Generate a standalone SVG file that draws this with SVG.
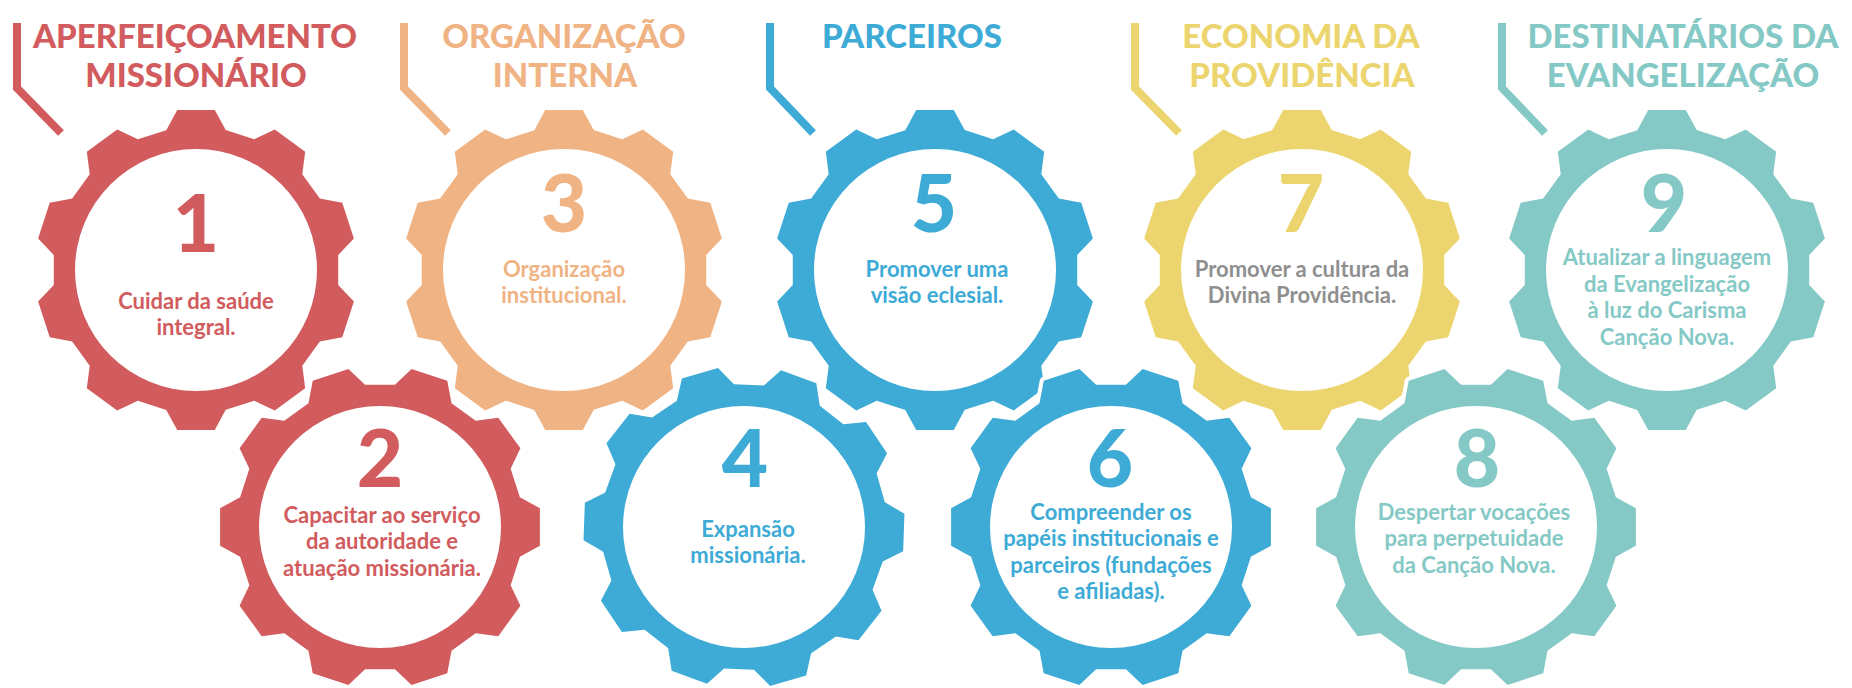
<svg xmlns="http://www.w3.org/2000/svg" xmlns:xlink="http://www.w3.org/1999/xlink" width="1852" height="688" viewBox="0 0 1852 688">
<style>
.title{font-family:Lato,"Liberation Sans",sans-serif;font-weight:900;font-size:33px;text-anchor:middle}
.num{font-family:Lato,"Liberation Sans",sans-serif;font-weight:900;font-size:80px;text-anchor:middle}
.body{font-family:Lato,"Liberation Sans",sans-serif;font-weight:700;font-size:22px;text-anchor:middle}
.red{fill:#D15B5D}.peach{fill:#F0B384}.blue{fill:#3DABD6}.yellow{fill:#ECD56F}.teal{fill:#85C9C6}.gray{fill:#8F8F8F}
.inner{fill:#FFFFFF}
.br{fill:none;stroke-width:8;stroke-linecap:butt;stroke-linejoin:miter}
</style>
<defs>
<path id="gear" stroke="#FFFFFF" stroke-width="8" stroke-linejoin="round" paint-order="stroke" d="M139.88,-29.73 L159.9,-18.78 L159.9,18.78 L139.88,29.73 L130.64,58.16 L140.4,78.79 L118.32,109.18 L95.69,106.27 L71.5,123.84 L67.28,146.27 L31.55,157.88 L14.95,142.22 L-14.95,142.22 L-31.55,157.88 L-67.28,146.27 L-71.5,123.84 L-95.69,106.27 L-118.32,109.18 L-140.4,78.79 L-130.64,58.16 L-139.88,29.73 L-159.9,18.78 L-159.9,-18.78 L-139.88,-29.73 L-130.64,-58.16 L-140.4,-78.79 L-118.32,-109.18 L-95.69,-106.27 L-71.5,-123.84 L-67.28,-146.27 L-31.55,-157.88 L-14.95,-142.22 L14.95,-142.22 L31.55,-157.88 L67.28,-146.27 L71.5,-123.84 L95.69,-106.27 L118.32,-109.18 L140.4,-78.79 L130.64,-58.16 Z"/>
</defs>

<g id="connectors">
<path class="br" stroke="#D15B5D" d="M17,23 V88 L61,133"/>
<path class="br" stroke="#F0B384" d="M404,23 V88 L448,133"/>
<path class="br" stroke="#3DABD6" d="M770,23 V88 L813,133"/>
<path class="br" stroke="#ECD56F" d="M1135,23 V88 L1179,133"/>
<path class="br" stroke="#85C9C6" d="M1502,23 V88 L1545,133"/>
</g>

<g id="title-aperfeicoamento">
<text class="title red" x="195" y="48">APERFEIÇOAMENTO</text>
<text class="title red" x="196" y="87">MISSIONÁRIO</text>
</g>
<g id="title-organizacao">
<text class="title peach" x="564" y="48">ORGANIZAÇÃO</text>
<text class="title peach" x="565" y="87">INTERNA</text>
</g>
<g id="title-parceiros">
<text class="title blue" x="912" y="48">PARCEIROS</text>
</g>
<g id="title-economia">
<text class="title yellow" x="1301" y="48">ECONOMIA DA</text>
<text class="title yellow" x="1302" y="87">PROVIDÊNCIA</text>
</g>
<g id="title-destinatarios">
<text class="title teal" x="1683" y="48">DESTINATÁRIOS DA</text>
<text class="title teal" x="1683" y="87">EVANGELIZAÇÃO</text>
</g>

<g id="gear1">
<use xlink:href="#gear" href="#gear" class="red" transform="translate(196,270) rotate(18)"/>
<circle class="inner" cx="196" cy="270" r="121"/>
<text class="num red" x="196" y="252">1</text>
<text class="body red" x="196" y="309">Cuidar da saúde</text>
<text class="body red" x="196" y="335">integral.</text>
</g>
<g id="gear3">
<use xlink:href="#gear" href="#gear" class="peach" transform="translate(564,270) rotate(18)"/>
<circle class="inner" cx="564" cy="270" r="121"/>
<text class="num peach" x="564" y="232">3</text>
<text class="body peach" x="564" y="277">Organização</text>
<text class="body peach" x="564" y="303">institucional.</text>
</g>
<g id="gear5">
<use xlink:href="#gear" href="#gear" class="blue" transform="translate(935,270) rotate(18)"/>
<circle class="inner" cx="935" cy="270" r="121"/>
<text class="num blue" x="934" y="232">5</text>
<text class="body blue" x="937" y="277">Promover uma</text>
<text class="body blue" x="937" y="303">visão eclesial.</text>
</g>
<g id="gear7">
<use xlink:href="#gear" href="#gear" class="yellow" transform="translate(1302,270) rotate(18)"/>
<circle class="inner" cx="1302" cy="270" r="121"/>
<text class="num yellow" x="1301" y="232">7</text>
<text class="body gray" x="1302" y="277">Promover a cultura da</text>
<text class="body gray" x="1302" y="303">Divina Providência.</text>
</g>
<g id="gear9">
<use xlink:href="#gear" href="#gear" class="teal" transform="translate(1667,270) rotate(18)"/>
<circle class="inner" cx="1667" cy="270" r="121"/>
<text class="num teal" x="1664" y="232">9</text>
<text class="body teal" x="1667" y="265">Atualizar a linguagem</text>
<text class="body teal" x="1667" y="292">da Evangelização</text>
<text class="body teal" x="1667" y="318">à luz do Carisma</text>
<text class="body teal" x="1667" y="345">Canção Nova.</text>
</g>

<g id="gear2">
<use xlink:href="#gear" href="#gear" class="red" transform="translate(380,527)"/>
<circle class="inner" cx="380" cy="527" r="121"/>
<text class="num red" x="380" y="487">2</text>
<text class="body red" x="382" y="523">Capacitar ao serviço</text>
<text class="body red" x="382" y="549">da autoridade e</text>
<text class="body red" x="382" y="576">atuação missionária.</text>
</g>
<g id="gear4">
<use xlink:href="#gear" href="#gear" class="blue" transform="translate(744,527) rotate(2)"/>
<circle class="inner" cx="744" cy="527" r="121"/>
<text class="num blue" x="745" y="487">4</text>
<text class="body blue" x="748" y="537">Expansão</text>
<text class="body blue" x="748" y="563">missionária.</text>
</g>
<g id="gear6">
<use xlink:href="#gear" href="#gear" class="blue" transform="translate(1111,527)"/>
<circle class="inner" cx="1111" cy="527" r="121"/>
<text class="num blue" x="1110" y="487">6</text>
<text class="body blue" x="1111" y="520">Compreender os</text>
<text class="body blue" x="1111" y="546">papéis institucionais e</text>
<text class="body blue" x="1111" y="573">parceiros (fundações</text>
<text class="body blue" x="1111" y="599">e afiliadas).</text>
</g>
<g id="gear8">
<use xlink:href="#gear" href="#gear" class="teal" transform="translate(1476,527)"/>
<circle class="inner" cx="1476" cy="527" r="121"/>
<text class="num teal" x="1477" y="487">8</text>
<text class="body teal" x="1474" y="520">Despertar vocações</text>
<text class="body teal" x="1474" y="546">para perpetuidade</text>
<text class="body teal" x="1474" y="573">da Canção Nova.</text>
</g>
</svg>
